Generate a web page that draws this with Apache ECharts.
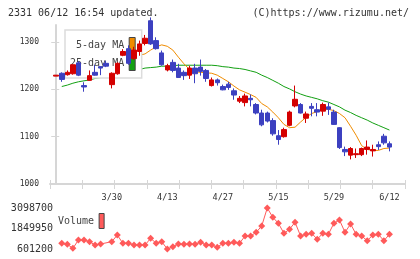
<!DOCTYPE html>
<html><head><meta charset="utf-8">
<script src="https://cdn.jsdelivr.net/npm/echarts@6/dist/echarts.min.js"></script>
<style>html,body{margin:0;padding:0;background:#fff}#c{width:420px;height:259px}</style>
</head><body><div id="c"></div>
<script>
const dates = ['3/13','3/16','3/17','3/18','3/19','3/23','3/24','3/25','3/26','3/27','3/30','3/31','4/1','4/2','4/3','4/6','4/7','4/8','4/9','4/10','4/13','4/14','4/15','4/16','4/17','4/20','4/21','4/22','4/23','4/24','4/27','4/28','4/30','5/1','5/7','5/8','5/11','5/12','5/13','5/14','5/15','5/18','5/19','5/20','5/21','5/22','5/25','5/26','5/27','5/28','5/29','6/1','6/2','6/3','6/4','6/5','6/8','6/9','6/10','6/11','6/12'];
const openP  = [1228,1234,1231,1233,1256,1208,1219,1236,1248,1255, 1210,1233,1272,1286,1265,1280,1297,1345,1303,1277, 1241,1257,1245,1236,1230,1245,1247,1240,1208,1220, 1206,1211,1197,1175,1172,1181,1168,1150,1150,1134, 1102,1100,1124,1165,1168,1139,1164,1157,1154,1163, 1152,1119,1073,1061,1062,1062,1073,1070,1083,1101,1085];
const closeP = [1230,1221,1236,1252,1230,1205,1229,1230,1245,1249, 1234,1255,1280,1255,1283,1296,1308,1296,1286,1252, 1250,1240,1225,1229,1245,1233,1238,1223,1220,1214, 1199,1204,1188,1181,1186,1178,1150,1125,1133,1106, 1094,1115,1152,1179,1150,1148,1160,1152,1168,1158, 1126,1077,1068,1075,1064,1075,1078,1073,1079,1087,1078];
const lowP   = [1228,1216,1229,1231,1228,1195,1218,1229,1230,1247, 1202,1231,1270,1252,1262,1271,1293,1294,1284,1250, 1238,1236,1224,1220,1222,1213,1229,1216,1206,1208, 1198,1199,1178,1171,1164,1164,1147,1122,1130,1102, 1083,1098,1122,1162,1149,1129,1143,1143,1144,1146, 1125,1074,1059,1052,1055,1059,1062,1058,1072,1083,1069];
const highP  = [1230,1236,1240,1253,1260,1215,1240,1252,1249,1260, 1236,1257,1285,1293,1290,1303,1315,1352,1310,1282, 1254,1263,1254,1240,1250,1254,1263,1243,1225,1223, 1210,1216,1202,1186,1191,1189,1171,1157,1153,1139, 1114,1119,1155,1208,1171,1153,1171,1171,1172,1172, 1157,1120,1079,1078,1075,1077,1092,1083,1090,1106,1090];
const ma5 = [null,null,null,null,null,null,null,null,null,null, null,null,null,null,null,1272,1275,1283,1290,1294, 1291,1283,1268,1254,1242,1237,1236,1235,1234,1230, 1223,1216,1207,1199,1194,1189,1183,1170,1163,1152, 1140,1126,1119,1120,1131,1141,1149,1153,1157,1158, 1155,1149,1140,1122,1103,1081,1073,1071,1071,1075,1076];
const ma25 = [null,1206,1209,1213,1216,1218,1220,1223,1225,1228, 1230,1232,1235,1238,1240,1242,1245,1246,1247,1249, 1249,1250,1251,1251,1251,1251,1251,1251,1251,1250, 1248,1247,1245,1244,1242,1239,1236,1230,1225,1219, 1213,1206,1201,1195,1190,1186,1183,1180,1176,1173, 1168,1163,1156,1151,1145,1140,1135,1129,1124,1119,1114];
const volume = [null,948000,887000,640000,1150000,1150000,1046000,845000,906000,null, 1046000,1454000,948000,948000,845000,845000,845000,1253000,948000,1046000, 601200,741000,906000,887000,906000,887000,1009000,845000,845000,705000, 948000,948000,1009000,948000,1393000,1393000,1618000,2002000,3098700,2532000, 2167000,1558000,1801000,2228000,1393000,1497000,1558000,1192000,1558000,1497000, 2167000,2368000,1618000,2124000,1497000,1393000,1107000,1454000,1497000,1107000,1497000];
const priceTicks = [1000,1100,1200,1300];
const volumeTicks = [601200,1849950,3098700];
const xLabelDates = ['3/30','4/13','4/27','5/15','5/29','6/12'];
const titleLeft = '2331 06/12 16:54 updated.';
const titleRight = '(C)https://www.rizumu.net/';

const FONT = 'DejaVu Sans Mono';
const X_MIN = -1.12, X_MAX = 62.8;
const Y_MIN = 1000, Y_MAX = 1336;
const xTickVals = [];
for (let k = 0; k <= 11; k++) xTickVals.push(X_MIN + k * (X_MAX - X_MIN) / 11);
const xLabelVals = xLabelDates.map(d => dates.indexOf(d));
const candleData = dates.map((d, i) => [i, openP[i], closeP[i], lowP[i], highP[i]]);
const pair = arr => arr.map((v, i) => [i, v == null ? '-' : v]);
const plain = v => String(Math.round(v));
const axisColor = '#d6d6d6';
const RED = '#d40000', BLUE = '#3c40c0';

const chart = echarts.init(document.getElementById('c'), null, {renderer: 'canvas'});
chart.setOption({
  animation: false,
  backgroundColor: '#fff',
  title: [
    {text: titleLeft, left: 8, top: 8, padding: 0, textStyle: {fontFamily: FONT, fontSize: 10, fontWeight: 'normal', color: '#333'}},
    {text: titleRight, right: 11, top: 8, padding: 0, textStyle: {fontFamily: FONT, fontSize: 10, fontWeight: 'normal', color: '#333'}}
  ],
  legend: [
    {data: ['5-day MA', '25-day MA'], orient: 'vertical', left: 65, top: 30, align: 'right',
     icon: 'rect', itemWidth: 6, itemHeight: 15, itemGap: 2, padding: [7, 6, 7, 5],
     backgroundColor: '#fff', borderColor: '#dcdcdc', borderWidth: 1.5,
     itemStyle: {borderColor: '#444', borderWidth: 1},
     textStyle: {fontFamily: FONT, fontSize: 10, color: '#444'}, selectedMode: false, z: 4},
    {data: ['Volume'], orient: 'horizontal', left: 53, top: 208, align: 'right',
     icon: 'rect', itemWidth: 5, itemHeight: 15, padding: 5,
     itemStyle: {borderColor: '#444', borderWidth: 1},
     textStyle: {fontFamily: FONT, fontSize: 10, color: '#444'}, selectedMode: false}
  ],
  grid: [
    {left: 50, top: 25, width: 355, height: 159},
    {left: 50, top: 208, width: 355, height: 41},
    {left: 50, top: 25, width: 355, height: 159}
  ],
  xAxis: [
    {type: 'value', gridIndex: 0, min: X_MIN, max: X_MAX,
     axisLine: {show: true, lineStyle: {color: axisColor, width: 2}},
     axisTick: {show: true, length: 5, customValues: xTickVals, lineStyle: {color: axisColor, width: 1}},
     axisLabel: {show: true, customValues: xLabelVals, formatter: v => dates[Math.round(v)] || '', margin: 9,
                 fontFamily: FONT, fontSize: 8.5, color: '#333'},
     splitLine: {show: false}},
    {type: 'value', gridIndex: 1, min: X_MIN, max: X_MAX, show: false},
    {type: 'value', gridIndex: 2, min: X_MIN, max: X_MAX,
     axisLine: {show: false},
     axisTick: {show: true, inside: true, length: 4, customValues: xTickVals, lineStyle: {color: axisColor, width: 1}},
     axisLabel: {show: false}, splitLine: {show: false}}
  ],
  yAxis: [
    {type: 'value', gridIndex: 0, min: Y_MIN, max: Y_MAX,
     axisLine: {show: true, lineStyle: {color: axisColor, width: 2}},
     axisTick: {show: true, length: 5, customValues: priceTicks, lineStyle: {color: axisColor, width: 1}},
     axisLabel: {show: true, customValues: priceTicks, formatter: plain, margin: 11, fontFamily: FONT, fontSize: 8, color: '#333'},
     splitLine: {show: false}},
    {type: 'value', gridIndex: 1, min: volumeTicks[0], max: volumeTicks[2],
     axisLine: {show: false}, axisTick: {show: false}, splitLine: {show: false},
     axisLabel: {show: true, customValues: volumeTicks, formatter: plain, margin: -3, fontFamily: FONT, fontSize: 10, color: '#333'}},
    {type: 'value', gridIndex: 2, min: Y_MIN, max: Y_MAX,
     axisLine: {show: false},
     axisTick: {show: true, inside: true, length: 3, customValues: priceTicks, lineStyle: {color: axisColor, width: 1}},
     axisLabel: {show: false}, splitLine: {show: false}}
  ],
  series: [
    {name: '25-day MA', type: 'line', xAxisIndex: 0, yAxisIndex: 0, data: pair(ma25), showSymbol: false, symbol: 'none',
     lineStyle: {color: '#12a012', width: 1}, itemStyle: {color: '#12a012'}, z: 1},
    {name: '5-day MA', type: 'line', xAxisIndex: 0, yAxisIndex: 0, data: pair(ma5), showSymbol: false, symbol: 'none',
     lineStyle: {color: '#f08c00', width: 1}, itemStyle: {color: '#f08c00'}, z: 1},
    {name: 'Price', type: 'candlestick', xAxisIndex: 0, yAxisIndex: 0, data: candleData,
     dimensions: ['idx', 'open', 'close', 'low', 'high'], encode: {x: 0, y: [1, 2, 3, 4]},
     barWidth: 5, clip: true, z: 6,
     itemStyle: {color: RED, color0: BLUE, borderColor: RED, borderColor0: BLUE, borderWidth: 1}},
    {name: 'Volume', type: 'line', xAxisIndex: 1, yAxisIndex: 1, data: pair(volume), connectNulls: true,
     symbol: 'diamond', symbolSize: 7, showSymbol: true,
     lineStyle: {color: '#ff5a5a', width: 1}, itemStyle: {color: '#ff5a5a'}}
  ]
});
</script></body></html>
